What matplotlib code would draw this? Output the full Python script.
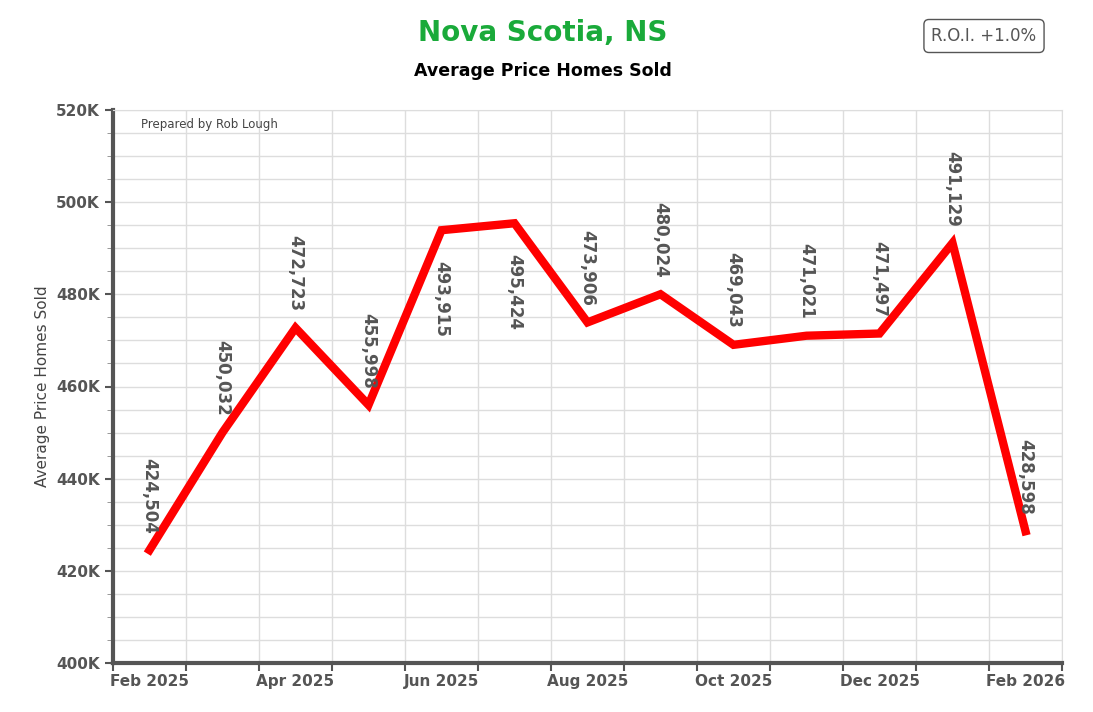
import matplotlib
matplotlib.use("Agg")
import matplotlib.pyplot as plt
import numpy as np
from matplotlib.ticker import FuncFormatter, MultipleLocator

months = ["Feb 2025","Mar 2025","Apr 2025","May 2025","Jun 2025","Jul 2025","Aug 2025",
          "Sep 2025","Oct 2025","Nov 2025","Dec 2025","Jan 2026","Feb 2026"]
values = [424504,450032,472723,455998,493915,495424,473906,480024,469043,471021,471497,491129,428598]
label_below = [False,False,False,False,True,True,False,False,False,False,False,False,False]

fig = plt.figure(figsize=(10.93,7.12), dpi=100)
ax = fig.add_axes([113/1093, 49/712, 949/1093, 553/712])
x = np.arange(len(values))
ax.plot(x, values, color="#ff0000", lw=6, solid_joinstyle="miter", zorder=3)
ax.set_xlim(-0.5, len(values)-0.5)
ax.set_ylim(400000, 520000)

ax.set_xticks(np.arange(-0.5, len(values), 1))
ax.set_xticklabels([])
ax.set_xticks(x[::2], minor=True)
ax.set_xticklabels([months[i] for i in x[::2]], minor=True)
ax.tick_params(axis="x", which="minor", length=0, labelsize=11, labelcolor="#555555", pad=8)
ax.tick_params(axis="x", which="major", length=6, color="#555555", width=1.5)
for lab in ax.get_xticklabels(minor=True):
    lab.set_fontweight("bold")
ax.grid(True, axis="x", which="major", color="#dddddd", lw=1)

ax.yaxis.set_major_locator(MultipleLocator(20000))
ax.yaxis.set_minor_locator(MultipleLocator(5000))
ax.yaxis.set_major_formatter(FuncFormatter(lambda v, p: f"{int(v/1000)}K"))
ax.tick_params(axis="y", which="major", length=6, labelsize=11, labelcolor="#555555", color="#555555", width=1.5)
ax.tick_params(axis="y", which="minor", length=4, color="#888888")
for lab in ax.get_yticklabels():
    lab.set_fontweight("bold")
ax.grid(True, axis="y", which="both", color="#dddddd", lw=1)
ax.set_axisbelow(True)
for s in ["top","right"]:
    ax.spines[s].set_color("#dddddd")
for s in ["left","bottom"]:
    ax.spines[s].set_color("#555555")
    ax.spines[s].set_linewidth(3)
ax.set_ylabel("Average Price Homes Sold", fontsize=11, color="#444444", labelpad=4)

for xi, v, below in zip(x, values, label_below):
    if below:
        ax.annotate(f"{v:,}", (xi, v), xytext=(0, -22), textcoords="offset points",
                    rotation=-90, ha="center", va="top", fontsize=12, fontweight="bold", color="#555555", zorder=4)
    else:
        ax.annotate(f"{v:,}", (xi, v), xytext=(0, 12), textcoords="offset points",
                    rotation=-90, ha="center", va="bottom", fontsize=12, fontweight="bold", color="#555555", zorder=4)

ax.text(0.03, 0.985, "Prepared by Rob Lough", transform=ax.transAxes, fontsize=8.5, color="#444444", va="top")
fig.text(543/1093, 1-33/712, "Nova Scotia, NS", ha="center", va="center", fontsize=20, fontweight="bold", color="#1aaa3a")
fig.text(543/1093, 1-71/712, "Average Price Homes Sold", ha="center", va="center", fontsize=12.5, fontweight="bold", color="black")
fig.text(984/1093, 1-36/712, "R.O.I. +1.0%", ha="center", va="center", fontsize=12, color="#555555",
         bbox=dict(boxstyle="round,pad=0.45,rounding_size=0.3", fc="white", ec="#555555", lw=1))
fig.savefig("out.png", dpi=100)
